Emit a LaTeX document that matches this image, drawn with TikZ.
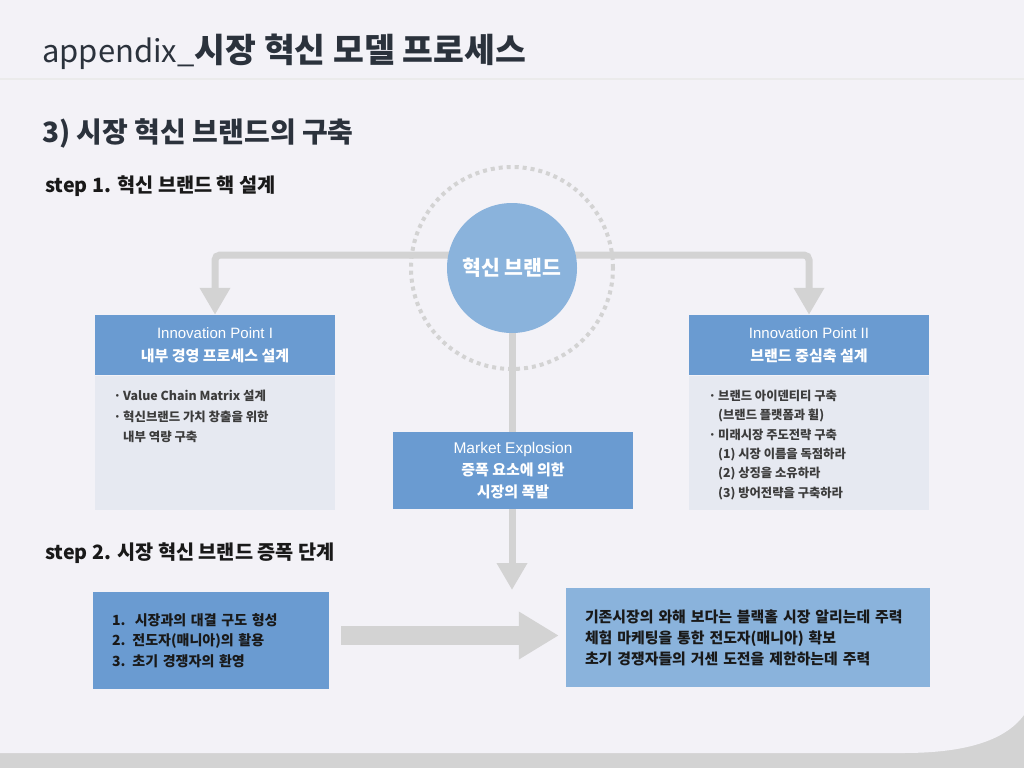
\documentclass[tikz,border=0pt]{standalone}
\usepackage{fontspec}
\setmainfont{Noto Sans CJK KR}
\newfontfamily\arial{Liberation Sans}
\usetikzlibrary{arrows.meta,backgrounds}
\definecolor{paper}{HTML}{F3F2F7}
\definecolor{band}{HTML}{D3D3D3}
\definecolor{ink}{HTML}{2B323C}
\definecolor{midblue}{HTML}{6A9BD1}
\definecolor{softblue}{HTML}{8AB3DC}
\definecolor{panel}{HTML}{E6E9F1}
\definecolor{railgray}{HTML}{D3D3D3}
\definecolor{bodyink}{HTML}{3C3C3C}
\tikzset{
  plain/.style={inner sep=0pt,anchor=west},
  header/.style={fill=midblue,minimum width=240pt,minimum height=60pt,inner sep=0pt,
    text=white,align=center,font=\fontsize{15}{23}\selectfont\bfseries},
  panelbox/.style={fill=panel,minimum width=240pt,minimum height=134pt,inner sep=0pt},
  bodytext/.style={anchor=north west,inner sep=0pt,align=left,text=bodyink},
  stepbox/.style={inner xsep=19pt,inner ysep=0pt,align=left,text=black!90,
    font=\fontsize{14}{20.5}\selectfont\bfseries},
  rail/.style={draw=railgray,line width=7pt,rounded corners=5pt,
    -{Triangle[width=29pt,length=27pt]}},
  bigarrow/.style={draw=railgray,line width=19pt,-{Triangle[width=45pt,length=40pt]}}
}
\begin{document}
\begin{tikzpicture}[x=1pt,y=-1pt]
    \useasboundingbox (0,0) rectangle (1024,768);
    %% Page
    \begin{scope}[on background layer]
        \fill[band] (0,0) rectangle (1024,768);
        \fill[paper] (0,0) -- (1024,0) -- (1024,715)
            .. controls (1004,742) and (962,753) .. (903,753) -- (0,753) -- cycle;
        \draw[line width=1.5pt,draw=black!8] (0,79) -- (1024,79);
    \end{scope}
    %% Titles
    \node[plain,text=ink,font=\fontsize{31}{36}\selectfont] (title) at (42,52)
        {appendix\_{\fontsize{33.5}{36}\selectfont\bfseries 시장 혁신 모델 프로세스}};
    \node[plain,text=ink,font=\fontsize{28}{32}\selectfont\bfseries] (section) at (42,133)
        {3) 시장 혁신 브랜드의 구축};
    \node[plain,text=black!90,font=\fontsize{19.7}{24}\selectfont\bfseries] (step1) at (45,186)
        {step 1. 혁신 브랜드 핵 설계};
    \node[plain,text=black!90,font=\fontsize{19.7}{24}\selectfont\bfseries] (step2) at (45,553)
        {step 2. 시장 혁신 브랜드 증폭 단계};
    %% Core
    \node[circle,fill=softblue,minimum size=130pt,inner sep=0pt,text=white,
        font=\fontsize{20.5}{24}\selectfont\bfseries] (core) at (512,268) {혁신 브랜드};
    \draw[draw=railgray,line width=4pt,dash pattern=on 4pt off 4pt] (core) circle (101pt);
    \coordinate (hub) at (512,255);
    \coordinate (tip) at (512,590);
    %% Innovation points
    \node[header] (inno1) at (215,345) {{\arial\mdseries Innovation Point I}\\내부 경영 프로세스 설계};
    \node[panelbox] (panel1) at (215,443) {};
    \node[bodytext,font=\fontsize{12.4}{20.5}\selectfont\bfseries] (body1) at (123,390)
        {\llap{·\,}Value Chain Matrix 설계\\
         \llap{·\,}혁신브랜드 가치 창출을 위한\\
         내부 역량 구축};
    \node[header] (inno2) at (809,345) {{\arial\mdseries Innovation Point II}\\브랜드 중심축 설계};
    \node[panelbox] (panel2) at (809,443) {};
    \node[bodytext,font=\fontsize{12.3}{19.3}\selectfont\bfseries] (body2) at (718,390)
        {\llap{·\,}브랜드 아이덴티티 구축\\
         (브랜드 플랫폼과 휠)\\
         \llap{·\,}미래시장 주도전략 구축\\
         (1) 시장 이름을 독점하라\\
         (2) 상징을 소유하라\\
         (3) 방어전략을 구축하라};
    %% Market explosion
    \node[fill=midblue,minimum width=240pt,minimum height=77pt,inner sep=0pt,text=white,
        align=center,font=\fontsize{15}{22}\selectfont\bfseries] (market) at (513,470.5)
        {{\arial\mdseries\fontsize{15.5}{22}\selectfont Market Explosion}\\증폭 요소에 의한\\시장의 폭발};
    %% Step 2 boxes
    \node[stepbox,fill=midblue,text width=198pt,minimum height=97pt] (stage) at (211,640.5)
        {1.\ \ 시장과의 대결 구도 형성\\2. 전도자(매니아)의 활용\\3. 초기 경쟁자의 환영};
    \node[stepbox,fill=softblue,text width=326pt,minimum height=99pt,
        font=\fontsize{14.9}{21}\selectfont\bfseries] (effect) at (748,637.5)
        {기존시장의 와해 보다는 블랙홀 시장 알리는데 주력\\
         체험 마케팅을 통한 전도자(매니아) 확보\\
         초기 경쟁자들의 거센 도전을 제한하는데 주력};
    %% Connectors
    \begin{scope}[on background layer]
        \draw[rail] (hub) -| (inno1.north);
        \draw[rail] (hub) -| (inno2.north);
        \draw[rail] (core) -- (tip);
    \end{scope}
    \path ([yshift=5pt]stage.east) coordinate (from);
    \draw[bigarrow,shorten <=12pt,shorten >=7pt] (from) -- (from -| effect.west);
\end{tikzpicture}
\end{document}
